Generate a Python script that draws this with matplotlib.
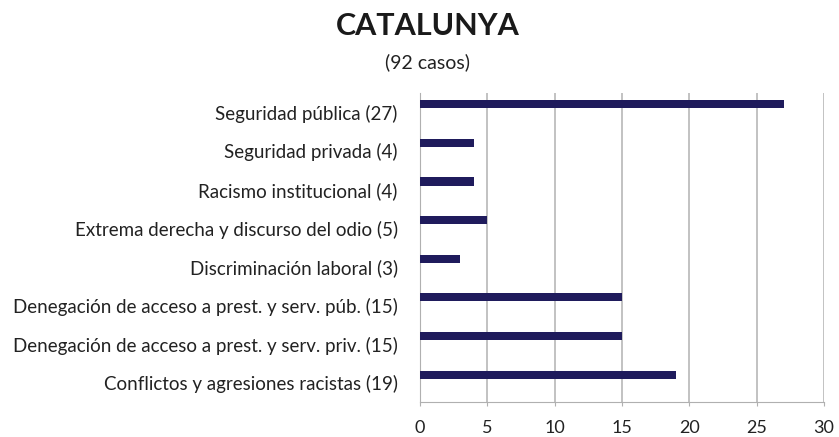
import matplotlib
matplotlib.use("Agg")
import matplotlib.pyplot as plt
import numpy as np

# datos (de abajo hacia arriba)
categorias = [
    "Conflictos y agresiones racistas (19)",
    "Denegación de acceso a prest. y serv. priv. (15)",
    "Denegación de acceso a prest. y serv. púb. (15)",
    "Discriminación laboral (3)",
    "Extrema derecha y discurso del odio (5)",
    "Racismo institucional (4)",
    "Seguridad privada (4)",
    "Seguridad pública (27)",
]
casos = [19, 15, 15, 3, 5, 4, 4, 27]
xticks = [0, 5, 10, 15, 20, 25, 30]

plt.rcParams['font.family'] = ['Lato', 'DejaVu Sans']

fig = plt.figure(figsize=(8.39, 4.37), dpi=100)
W, H = 839, 437
ax = fig.add_axes([420 / W, 1 - 402 / H, (824 - 420) / W, (402 - 93) / H])

pos = np.arange(len(casos))
# las barras van un poco por encima del centro de la categoria (como en Excel)
ax.barh(pos + 0.21, casos, height=0.21, color='#1f1b5c', zorder=3)
ax.set_xlim(0, 30)
ax.set_ylim(-0.5, 7.5)
ax.set_xticks(xticks)
ax.set_yticks(pos)
ax.set_yticklabels(categorias, fontsize=13.5, color='#222222')
ax.tick_params(axis='y', length=0, pad=16)
ax.tick_params(axis='x', length=3, color='#b0b0b0', labelsize=13, pad=10, labelcolor='#222222')
ax.grid(axis='x', color='#b8b8b8', linewidth=1.2, zorder=0)
for s in ['top', 'right']:
    ax.spines[s].set_visible(False)
ax.spines['bottom'].set_color('#b0b0b0')
ax.spines['left'].set_color('#b0b0b0')

fig.text(428 / W, 1 - 26 / H, "CATALUNYA", ha='center', va='center',
         fontsize=22, fontweight='bold', color='#1a1a1a')
fig.text(427 / W, 1 - 62 / H, "(92 casos)", ha='center', va='center',
         fontsize=14, color='#222222')

fig.savefig("out.png", dpi=100, facecolor='white')
